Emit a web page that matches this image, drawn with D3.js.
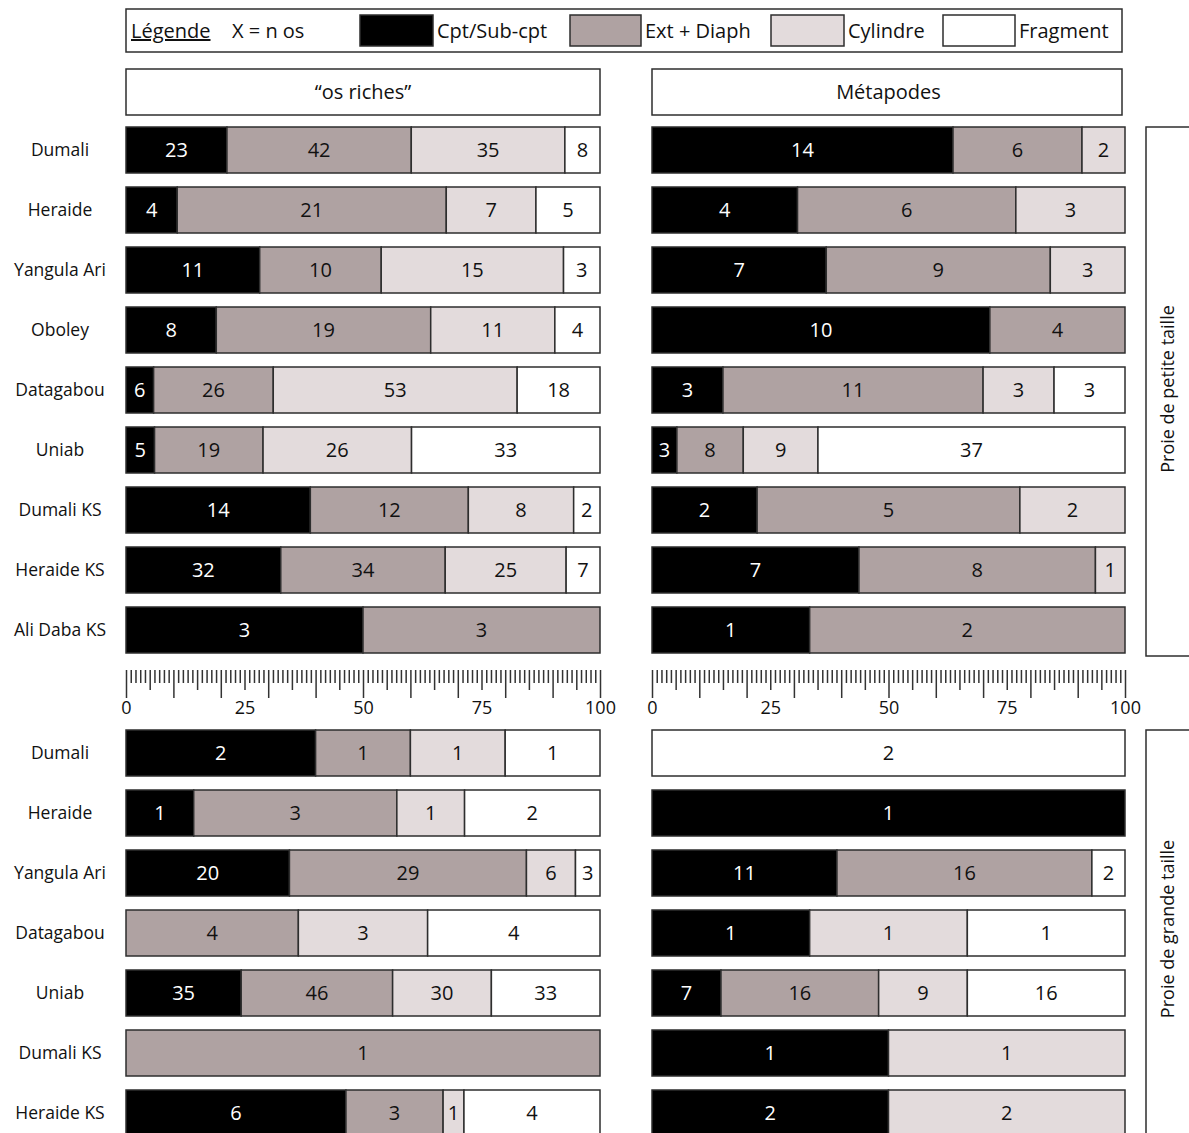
<!DOCTYPE html>
<html>
<head>
<meta charset="utf-8">
<script src="https://cdn.jsdelivr.net/npm/d3@7"></script>
<style>
  html, body { margin: 0; padding: 0; background: #fff; }
  svg { display: block; font-family: "Open Sans", "Noto Sans", sans-serif; }
</style>
</head>
<body>
<svg id="chart" width="1189" height="1133"></svg>
<script>
// ---------- DATA ----------
const categories = ["Cpt/Sub-cpt", "Ext + Diaph", "Cylindre", "Fragment"];
const panelTitles = ["\u201Cos riches\u201D", "Métapodes"];
const groupTitles = ["Proie de petite taille", "Proie de grande taille"];
const sitesTop = ["Dumali", "Heraide", "Yangula Ari", "Oboley", "Datagabou", "Uniab", "Dumali KS", "Heraide KS", "Ali Daba KS"];
const sitesBottom = ["Dumali", "Heraide", "Yangula Ari", "Datagabou", "Uniab", "Dumali KS", "Heraide KS"];

// counts per category [Cpt/Sub-cpt, Ext + Diaph, Cylindre, Fragment]
const osRichesTop = [[23,42,35,8],[4,21,7,5],[11,10,15,3],[8,19,11,4],[6,26,53,18],[5,19,26,33],[14,12,8,2],[32,34,25,7],[3,3,0,0]];
const metapodesTop = [[14,6,2,0],[4,6,3,0],[7,9,3,0],[10,4,0,0],[3,11,3,3],[3,8,9,37],[2,5,2,0],[7,8,1,0],[1,2,0,0]];
const osRichesBottom = [[2,1,1,1],[1,3,1,2],[20,29,6,3],[0,4,3,4],[35,46,30,33],[0,1,0,0],[6,3,1,4]];
const metapodesBottom = [[0,0,0,2],[1,0,0,0],[11,16,0,2],[1,0,1,1],[7,16,9,16],[1,0,1,0],[2,0,2,0]];

// drawn shares (%) where the bar in the figure differs from the counts
const osRichesBottomHeraideKSShare = [46.4, 20.5, 4.4, 28.7];
const metapodesBottomYangulaShare = [39.1, 53.9, 0, 7.0];

const axisLabels = [0, 25, 50, 75, 100];

// ---------- STYLE ----------
const colors = ["#000000", "#afa2a2", "#e3dbdc", "#ffffff"];
const stroke = "#2e2e2e";

const svg = d3.select("#chart");

const xLeft = d3.scaleLinear().domain([0, 100]).range([126, 600]);
const xRight = d3.scaleLinear().domain([0, 100]).range([652, 1125]);

const yTop = d3.scaleBand().domain(sitesTop).range([127, 127 + 60 * sitesTop.length - 14]).paddingInner(14 / 60).paddingOuter(0);
const yBottom = d3.scaleBand().domain(sitesBottom).range([730, 730 + 60 * sitesBottom.length - 14]).paddingInner(14 / 60).paddingOuter(0);

// ---------- LEGEND ----------
const lg = svg.append("g");
lg.append("rect").attr("x", 126).attr("y", 9).attr("width", 996).attr("height", 43)
  .attr("fill", "#fff").attr("stroke", stroke).attr("stroke-width", 1.5);
lg.append("text").attr("x", 131).attr("y", 38).attr("font-size", 20).attr("fill", "#111")
  .attr("text-decoration", "underline").text("Légende");
lg.append("text").attr("x", 232).attr("y", 38).attr("font-size", 20).attr("fill", "#111").text("X = n os");
const swX = [360, 570, 771, 943];
const swW = [73, 71, 73, 72];
categories.forEach((c, i) => {
  lg.append("rect").attr("x", swX[i]).attr("y", 15).attr("width", swW[i]).attr("height", 31)
    .attr("fill", colors[i]).attr("stroke", stroke).attr("stroke-width", 1.5);
  lg.append("text").attr("x", swX[i] + swW[i] + 4).attr("y", 38).attr("font-size", 20).attr("fill", "#111").text(c);
});

// ---------- PANEL HEADERS ----------
[xLeft, xRight].forEach((x, i) => {
  const [a, b] = x.range();
  svg.append("rect").attr("x", a).attr("y", 69).attr("width", (i === 0 ? b : b - 3) - a).attr("height", 46)
    .attr("fill", "#fff").attr("stroke", stroke).attr("stroke-width", 1.5);
  svg.append("text").attr("x", (a + b) / 2).attr("y", 99).attr("text-anchor", "middle")
    .attr("font-size", 20).attr("fill", "#111").text(panelTitles[i]);
});

// ---------- BARS ----------
function drawBars(sites, y, x, counts, overrides) {
  const g = svg.append("g");
  sites.forEach((site, r) => {
    const vals = counts[r];
    const total = d3.sum(vals);
    const shares = overrides[r] || vals.map(v => v / total * 100);
    const ends = d3.cumsum(shares);
    const segs = vals.map((v, k) => ({ v, k, x0: k === 0 ? 0 : ends[k - 1], x1: ends[k] }))
      .filter(d => d.v > 0);
    const row = g.append("g");
    row.selectAll("rect").data(segs).join("rect")
      .attr("x", d => x(d.x0)).attr("y", y(site))
      .attr("width", d => x(d.x1) - x(d.x0)).attr("height", y.bandwidth())
      .attr("fill", d => colors[d.k]).attr("stroke", stroke).attr("stroke-width", 1.5);
    row.selectAll("text").data(segs).join("text")
      .attr("x", d => (x(d.x0) + x(d.x1)) / 2).attr("y", y(site) + y.bandwidth() / 2 + 7)
      .attr("text-anchor", "middle").attr("font-size", 20)
      .attr("fill", d => d.k === 0 ? "#fff" : "#111").text(d => d.v);
  });
}
function drawSiteLabels(sites, y) {
  svg.append("g").selectAll("text").data(sites).join("text")
    .attr("x", 60).attr("y", d => y(d) + y.bandwidth() / 2 + 6)
    .attr("text-anchor", "middle").attr("font-size", 17.5).attr("fill", "#111").text(d => d);
}

drawSiteLabels(sitesTop, yTop);
drawSiteLabels(sitesBottom, yBottom);
drawBars(sitesTop, yTop, xLeft, osRichesTop, {});
drawBars(sitesTop, yTop, xRight, metapodesTop, {});
drawBars(sitesBottom, yBottom, xLeft, osRichesBottom, { 6: osRichesBottomHeraideKSShare });
drawBars(sitesBottom, yBottom, xRight, metapodesBottom, { 2: metapodesBottomYangulaShare });

// ---------- AXES (ruler) ----------
[xLeft, xRight].forEach(x => {
  const yAx = 670;
  const mk = (vals, size) => {
    const ax = svg.append("g").attr("transform", `translate(0,${yAx})`)
      .call(d3.axisBottom(x).tickValues(vals).tickSize(size).tickFormat(""));
    ax.select(".domain").remove();
    ax.selectAll("line").attr("stroke", "#333").attr("stroke-width", 1.5);
  };
  mk(d3.range(0, 101, 1).filter(v => v % 5 !== 0), 13);
  mk(d3.range(5, 100, 10), 20);
  mk(d3.range(0, 101, 10), 28);
  const lab = svg.append("g").attr("transform", `translate(0,${yAx})`)
    .call(d3.axisBottom(x).tickValues(axisLabels).tickSize(0).tickPadding(31).tickFormat(d3.format("d")));
  lab.select(".domain").remove();
  lab.selectAll("text").attr("font-size", 18).attr("fill", "#111")
    .attr("font-family", "'Open Sans', sans-serif");
});

// ---------- GROUP BRACKETS ----------
const groups = [
  { y0: 127, y1: 656, title: groupTitles[0] },
  { y0: 730, y1: 1160, title: groupTitles[1] }
];
groups.forEach(gr => {
  svg.append("rect").attr("x", 1146).attr("y", gr.y0).attr("width", 80).attr("height", gr.y1 - gr.y0)
    .attr("fill", "none").attr("stroke", stroke).attr("stroke-width", 1.5);
});
svg.append("text").attr("transform", "translate(1174,389) rotate(-90)").attr("text-anchor", "middle")
  .attr("font-size", 18).attr("fill", "#111").text(groups[0].title);
svg.append("text").attr("transform", "translate(1174,929) rotate(-90)").attr("text-anchor", "middle")
  .attr("font-size", 18).attr("fill", "#111").text(groups[1].title);
</script>
</body>
</html>
